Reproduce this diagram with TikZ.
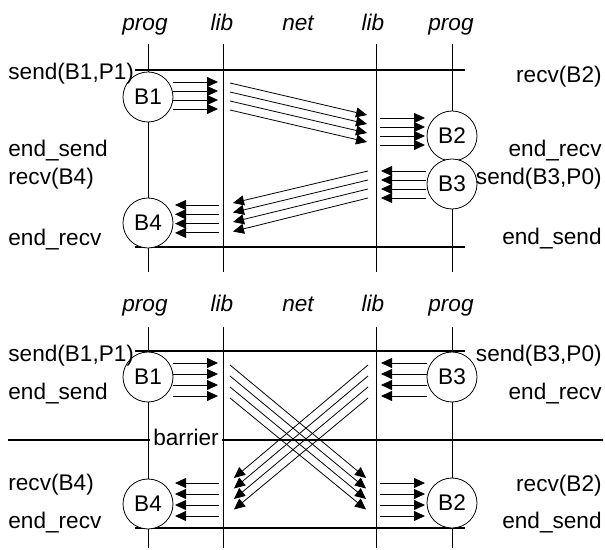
\documentclass[tikz,border=0pt]{standalone}
\usepackage{fontspec}
\setmainfont{Liberation Sans}
\usetikzlibrary{arrows.meta}

\begin{document}
\begin{tikzpicture}[x=0.5pt, y=-0.5pt,
  every node/.style={font=\fontsize{11.3}{13}\selectfont},
  blk/.style={draw, circle, fill=white, minimum size=25pt, inner sep=0pt, line width=0.4pt},
  hdr/.style={font=\fontsize{11.3}{13}\selectfont\itshape, anchor=base, inner sep=0pt},
  lbl/.style={anchor=base west, inner sep=0pt},
  rlbl/.style={anchor=base east, inner sep=0pt},
  msg/.style={-{Triangle[length=5.5pt,width=5pt]}, line width=0.4pt},
  rule/.style={line width=0.4pt},
  frame/.style={line width=0.8pt}]
\useasboundingbox (0,0) rectangle (605,550);

% column headers
\foreach \n/\x/\t in {pl/145/prog, ll/222/lib, nt/298/net, lr/373/lib, pr/451/prog} {
  \node[hdr] (h\n) at (\x,31) {\t};
  \node[hdr] (g\n) at (\x,312) {\t};
}

% time lines
\foreach \x in {148,223,376,452} {
  \draw[rule] (\x,44) -- (\x,272);
  \draw[rule] (\x,327) -- (\x,548);
}
\draw[frame] (135,70) -- (465,70);
\draw[frame] (135,247) -- (465,247);
\draw[frame] (135,351) -- (465,351);
\draw[frame] (135,528) -- (465,528);
\draw[frame] (8,440) -- (603,440);
\node[anchor=base, fill=white, inner xsep=1.5pt, inner ysep=1pt] (barrier) at (186,445) {barrier};

% upper picture: blocks
\node[blk] (B1) at (148,97) {B1};
\node[blk] (B4) at (148,223) {B4};
\node[blk] (B2) at (452,136) {B2};
\node[blk] (B3) at (452,184) {B3};

\node[lbl] (s1) at (8,80) {send(B1,P1)};
\node[lbl] (e1) at (8,157) {end\_send};
\node[lbl] (r4) at (8,185) {recv(B4)};
\node[lbl] (e4) at (8,246) {end\_recv};
\node[rlbl] (r2) at (602,83) {recv(B2)};
\node[rlbl] (e2) at (602,157) {end\_recv};
\node[rlbl] (s3) at (602,185) {send(B3,P0)};
\node[rlbl] (e3) at (602,245) {end\_send};

\foreach \k in {0,...,3} {
  \coordinate (ua\k) at (173,82+9*\k);
  \coordinate (ub\k) at (218,82+9*\k);
  \coordinate (uc\k) at (230,83+9*\k);
  \coordinate (ud\k) at (367,115+9*\k);
  \coordinate (ue\k) at (380,118+9*\k);
  \coordinate (uf\k) at (425,118+9*\k);
  \draw[msg] (ua\k) -- (ub\k);
  \draw[msg] (uc\k) -- (ud\k);
  \draw[msg] (ue\k) -- (uf\k);
  \coordinate (vf\k) at (426,171+9*\k);
  \coordinate (ve\k) at (381,171+9*\k);
  \coordinate (vd\k) at (368,171+9*\k);
  \coordinate (vc\k) at (233,203+9.5*\k);
  \coordinate (vb\k) at (219,205+9.3*\k);
  \coordinate (va\k) at (175,205+9.3*\k);
  \draw[msg] (vf\k) -- (ve\k);
  \draw[msg] (vd\k) -- (vc\k);
  \draw[msg] (vb\k) -- (va\k);
}

% lower picture: blocks
\node[blk] (C1) at (148,377) {B1};
\node[blk] (C3) at (452,377) {B3};
\node[blk] (C4) at (148,504) {B4};
\node[blk] (C2) at (452,503) {B2};

\node[lbl] (t1) at (8,362) {send(B1,P1)};
\node[lbl] (f1) at (8,400) {end\_send};
\node[lbl] (q4) at (8,490) {recv(B4)};
\node[lbl] (f4) at (8,528) {end\_recv};
\node[rlbl] (t3) at (602,362) {send(B3,P0)};
\node[rlbl] (f3) at (602,400) {end\_recv};
\node[rlbl] (q2) at (602,491) {recv(B2)};
\node[rlbl] (f2) at (602,528) {end\_send};

\foreach \k in {0,...,3} {
  \coordinate (la\k) at (173,363+11*\k);
  \coordinate (lb\k) at (218,363+11*\k);
  \coordinate (lc\k) at (230,365+11*\k);
  \coordinate (ld\k) at (366,478+10.5*\k);
  \coordinate (le\k) at (380,483+11*\k);
  \coordinate (lf\k) at (425,483+11*\k);
  \draw[msg] (la\k) -- (lb\k);
  \draw[msg] (lc\k) -- (ld\k);
  \draw[msg] (le\k) -- (lf\k);
  \coordinate (mf\k) at (427,363+11*\k);
  \coordinate (me\k) at (381,363+11*\k);
  \coordinate (md\k) at (368,365+11*\k);
  \coordinate (mc\k) at (234,478+10.5*\k);
  \coordinate (mb\k) at (219,483+11*\k);
  \coordinate (ma\k) at (175,483+11*\k);
  \draw[msg] (mf\k) -- (me\k);
  \draw[msg] (md\k) -- (mc\k);
  \draw[msg] (mb\k) -- (ma\k);
}
\end{tikzpicture}
\end{document}
